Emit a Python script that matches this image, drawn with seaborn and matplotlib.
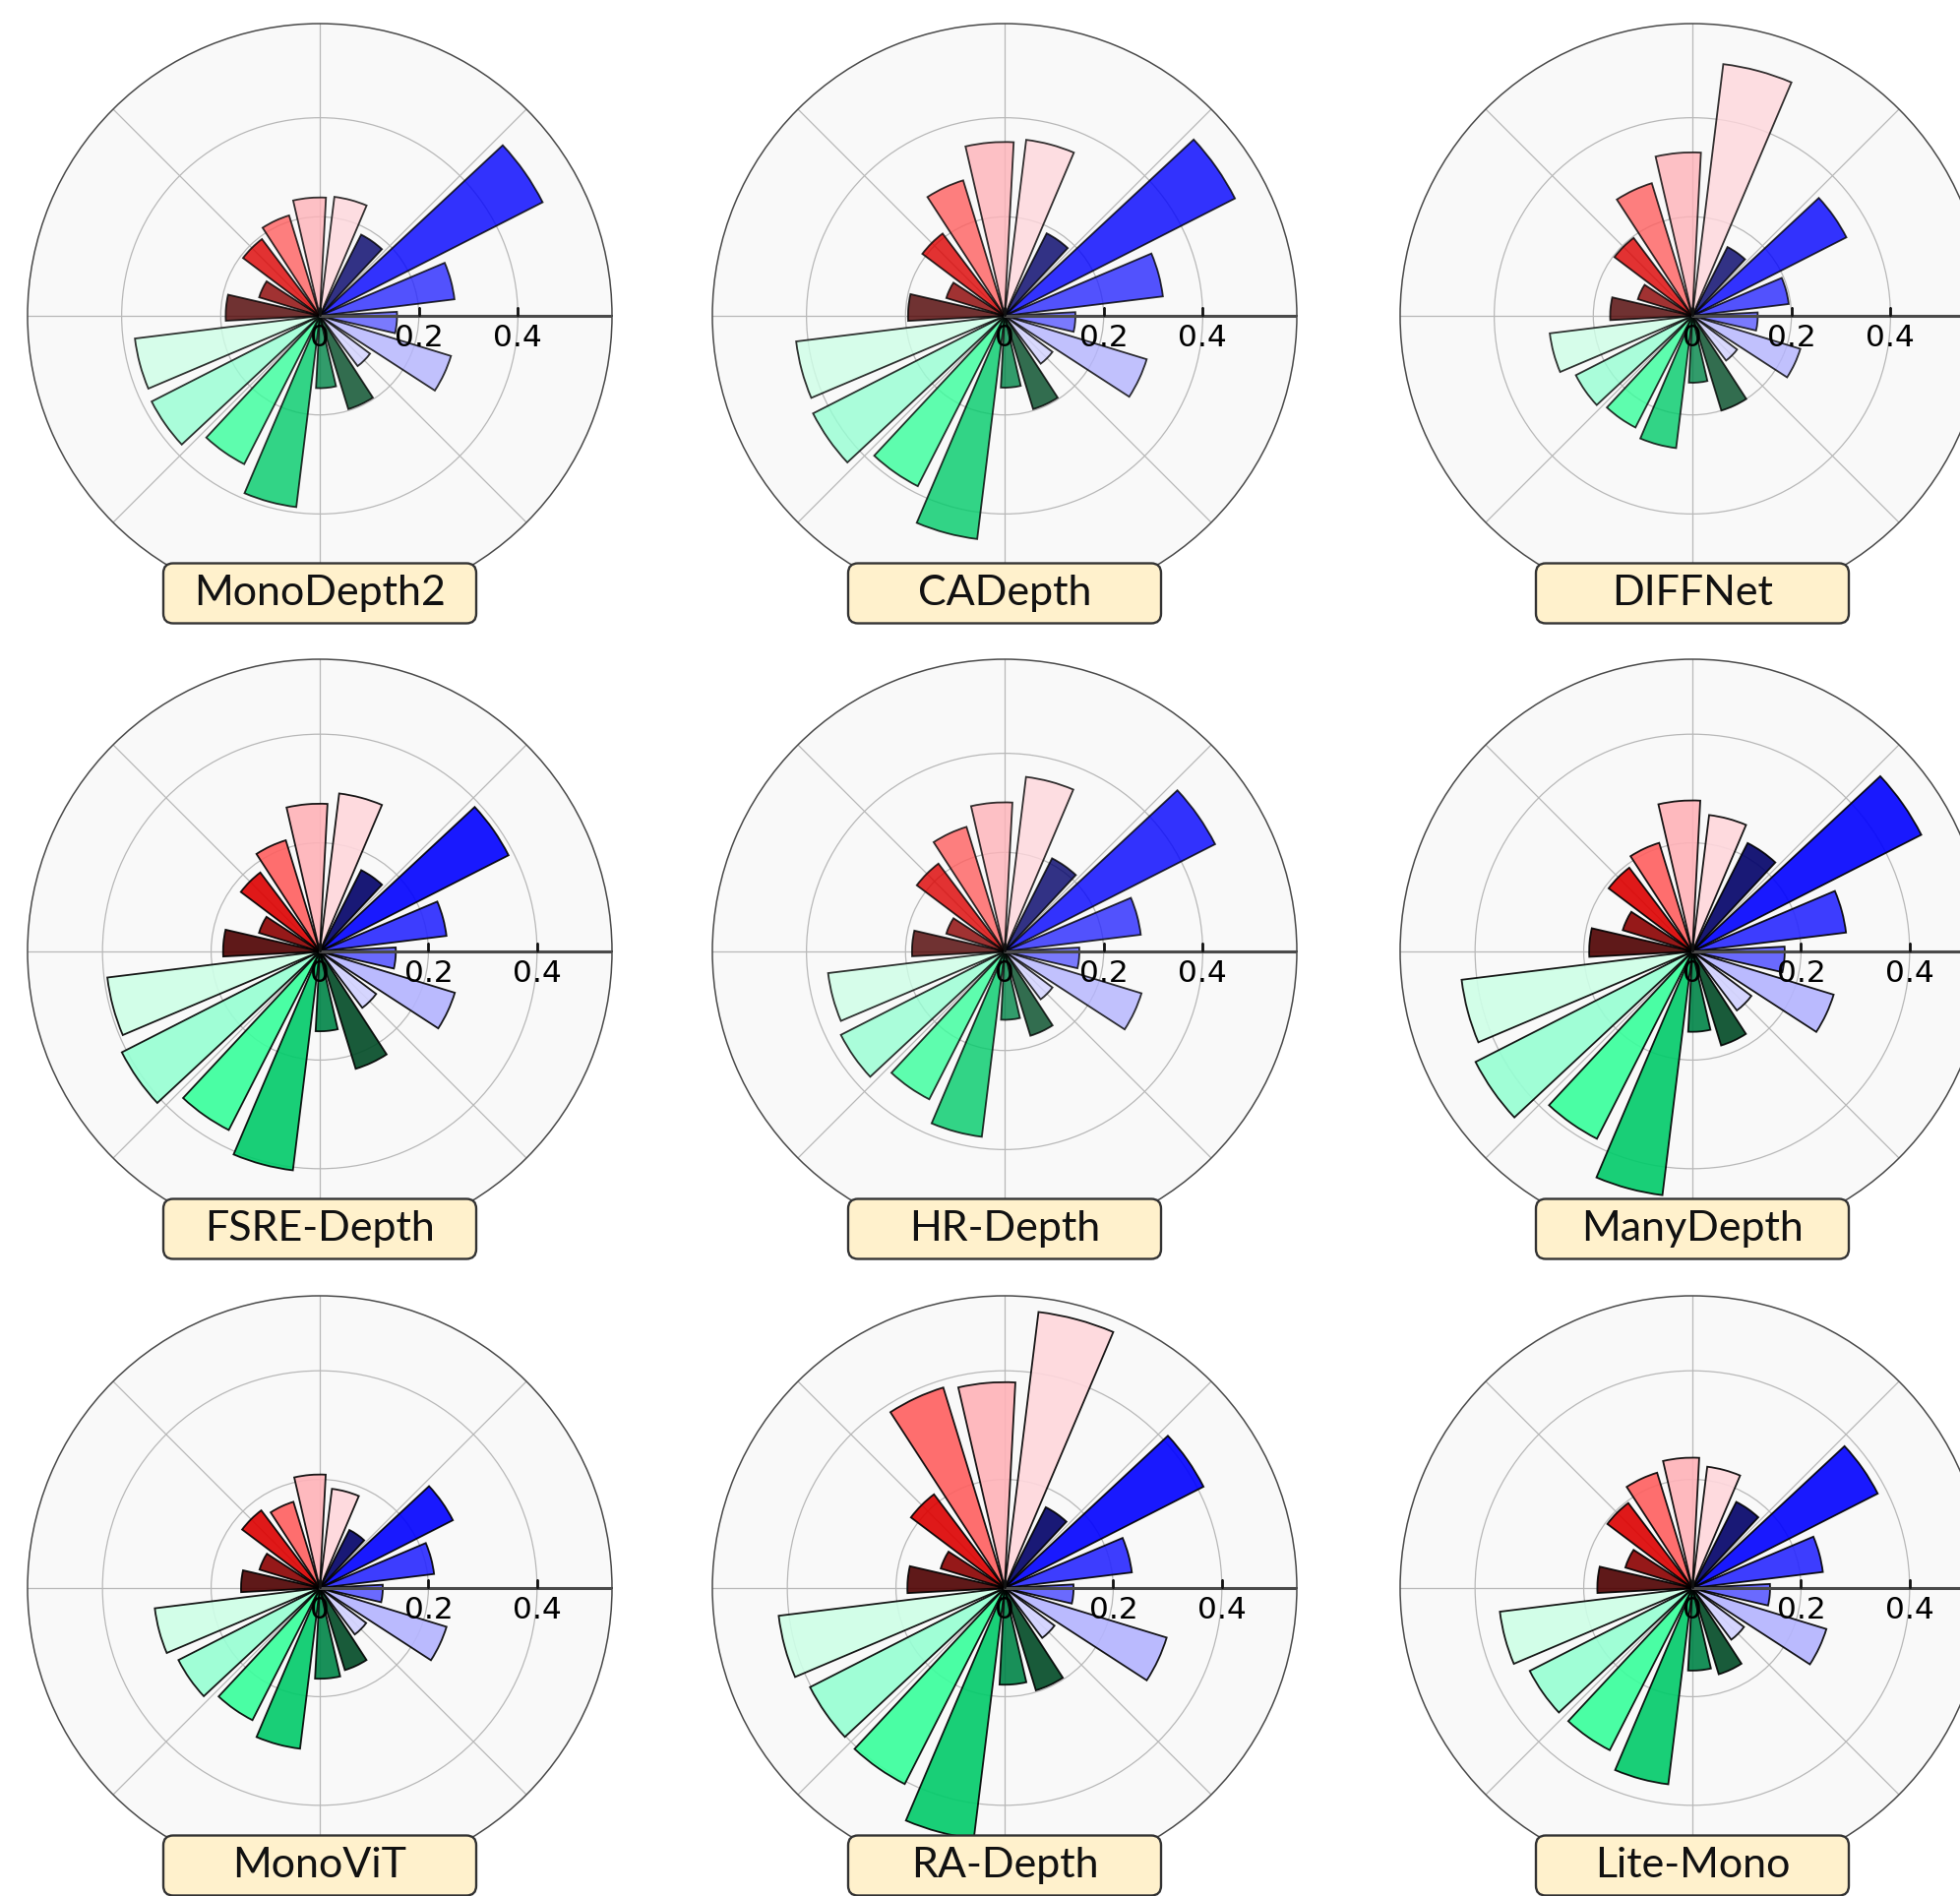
import numpy as np
import matplotlib
matplotlib.use("Agg")
import matplotlib.pyplot as plt
import seaborn as sns
from matplotlib.patches import FancyBboxPatch
from matplotlib.path import Path
from matplotlib.transforms import IdentityTransform

# models, one polar panel each (row by row)
models = ["MonoDepth2", "CADepth", "DIFFNet",
          "FSRE-Depth", "HR-Depth", "ManyDepth",
          "MonoViT", "RA-Depth", "Lite-Mono"]

# 18 bars per model, clockwise from the dark-blue bar:
# 6 blue shades, 6 green shades, 6 red shades (dark -> light)
monodepth2 = [0.184, 0.505, 0.274, 0.156, 0.277, 0.127, 0.197, 0.146, 0.389,
              0.336, 0.381, 0.376, 0.190, 0.128, 0.194, 0.212, 0.239, 0.242]
cadepth = [0.187, 0.522, 0.322, 0.143, 0.300, 0.121, 0.197, 0.145, 0.454,
           0.386, 0.434, 0.424, 0.195, 0.123, 0.208, 0.286, 0.351, 0.358]
diffnet = [0.156, 0.349, 0.196, 0.132, 0.228, 0.113, 0.200, 0.135, 0.269,
           0.253, 0.264, 0.290, 0.166, 0.115, 0.197, 0.280, 0.330, 0.512]
fsre_depth = [0.168, 0.390, 0.235, 0.140, 0.260, 0.130, 0.226, 0.147, 0.406,
              0.369, 0.409, 0.394, 0.178, 0.117, 0.182, 0.214, 0.272, 0.293]
hr_depth = [0.211, 0.477, 0.277, 0.151, 0.289, 0.121, 0.178, 0.138, 0.377,
            0.335, 0.371, 0.359, 0.187, 0.123, 0.222, 0.263, 0.301, 0.355]
manydepth = [0.224, 0.473, 0.285, 0.170, 0.272, 0.136, 0.181, 0.148, 0.452,
             0.387, 0.448, 0.428, 0.190, 0.134, 0.193, 0.209, 0.278, 0.253]
monovit = [0.120, 0.275, 0.212, 0.116, 0.244, 0.107, 0.158, 0.167, 0.298,
           0.273, 0.292, 0.306, 0.145, 0.116, 0.179, 0.166, 0.209, 0.184]
ra_depth = [0.167, 0.411, 0.236, 0.127, 0.312, 0.115, 0.197, 0.178, 0.465,
            0.405, 0.402, 0.419, 0.179, 0.123, 0.216, 0.386, 0.379, 0.512]
lite_mono = [0.178, 0.383, 0.242, 0.143, 0.258, 0.119, 0.166, 0.152, 0.364,
             0.335, 0.336, 0.357, 0.175, 0.129, 0.196, 0.222, 0.240, 0.225]

values = [monodepth2, cadepth, diffnet, fsre_depth, hr_depth, manydepth,
          monovit, ra_depth, lite_mono]
r_max = [0.59, 0.59, 0.59, 0.538, 0.59, 0.538, 0.538, 0.538, 0.538]
bar_alpha = [0.8, 0.8, 0.8, 0.9, 0.8, 0.9, 0.9, 0.9, 0.9]

tick_values = [0, 0.2, 0.4]
tick_labels = ["0", "0.2", "0.4"]

blues = ["#000068", "#0000ff", "#2828ff", "#5a5aff", "#b4b4ff", "#d2d2ff"]
greens = ["#004a25", "#008548", "#00cb69", "#37ff9b", "#96ffd3", "#ceffe7"]
reds = ["#4e0000", "#8b0000", "#dd0000", "#ff5f5f", "#ffb2b8", "#ffd7dc"]
colors = sns.color_palette(blues + greens + reds)

sns.set_theme(style="white")
plt.rcParams["font.family"] = ["DejaVu Sans"]

W, H = 1992, 1927
fig = plt.figure(figsize=(W / 100, H / 100), dpi=100)

theta = np.deg2rad(55 - 20 * np.arange(18))
bar_width = np.deg2rad(16)

centers_x = [325, 1021, 1720]
centers_y = [321, 967, 1614]
R = 297  # axes radius in px

tick_marker = Path([(0, 0), (0, 1)], [Path.MOVETO, Path.LINETO])

for k, name in enumerate(models):
    row, col = divmod(k, 3)
    cx, cy = centers_x[col], centers_y[row]
    ax = fig.add_axes([(cx - R) / W, (H - cy - R) / H, 2 * R / W, 2 * R / H],
                      projection="polar")
    ax.set_facecolor("#f9f9f9")
    ax.bar(theta, values[k], width=bar_width, color=colors,
           edgecolor="black", linewidth=1.3, alpha=bar_alpha[k], zorder=3)
    ax.set_ylim(0, r_max[k])
    ax.set_xticks(np.deg2rad(np.arange(0, 360, 45)))
    ax.set_xticklabels([])
    ax.set_yticks([0.2, 0.4])
    ax.set_yticklabels([])
    ax.tick_params(length=0)
    ax.grid(True, color="#b8b8b8", linewidth=0.9)
    ax.spines["polar"].set_color("#4a4a4a")
    ax.spines["polar"].set_linewidth(1.1)

    # radial axis along theta = 0
    ax.plot([0, 0], [0, r_max[k]], color="#4a4a4a", lw=2.2, zorder=5)
    ax.plot(np.zeros(len(tick_values)), tick_values, linestyle="none",
            marker=tick_marker, markersize=13, markeredgewidth=2.0,
            color="#111111", zorder=6)
    for r, lab in zip(tick_values, tick_labels):
        ax.annotate(lab, xy=(0, r), xytext=(0, -6), textcoords="offset points",
                    ha="center", va="top", fontsize=22.5, color="black",
                    family="DejaVu Sans", zorder=6)

    # name tag under each rose
    yc = H - (cy + 282)
    box = FancyBboxPatch((cx - 159, yc - 30.5), 318, 61,
                         boxstyle="round,pad=0,rounding_size=10",
                         transform=IdentityTransform(), facecolor="#fff1cc",
                         edgecolor="#333333", linewidth=1.7, zorder=10)
    fig.add_artist(box)
    fig.text(cx / W, yc / H, name, ha="center", va="center", fontsize=31,
             family=["Lato", "DejaVu Sans"], color="#111111", zorder=11)

fig.savefig("out.png", dpi=100)
